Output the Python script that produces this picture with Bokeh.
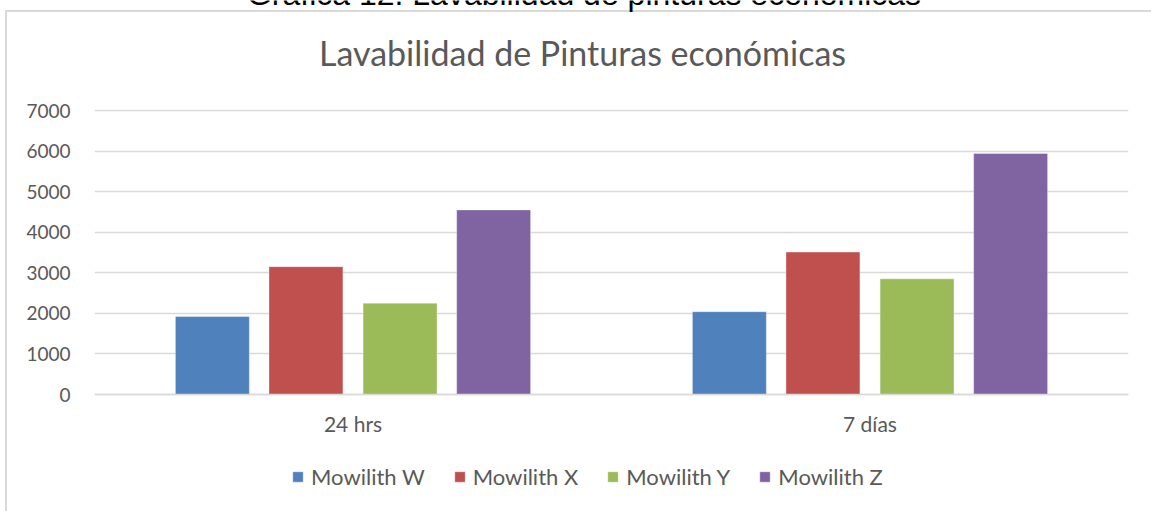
from bokeh.plotting import figure
from bokeh.models import (FactorRange, Range1d, Legend, LegendItem, Label,
                          FixedTicker, ColumnDataSource)
from bokeh.transform import dodge
from bokeh.embed import file_html
from bokeh.resources import INLINE

# ---- data ----
categories = ["24 hrs", "7 días"]
series = ["Mowilith W", "Mowilith X", "Mowilith Y", "Mowilith Z"]
mowilith_w = [1920, 2040]
mowilith_x = [3150, 3510]
mowilith_y = [2250, 2850]
mowilith_z = [4550, 5940]
y_ticks = [0, 1000, 2000, 3000, 4000, 5000, 6000, 7000]
header_text = "Gráfica 12. Lavabilidad de pinturas económicas"
chart_title = "Lavabilidad de Pinturas económicas"

colors = ["#4F81BD", "#C0504D", "#9BBB59", "#8064A2"]
offsets = [-0.272, -0.091, 0.091, 0.272]

src = ColumnDataSource(dict(cat=categories, w=mowilith_w, x=mowilith_x,
                            y=mowilith_y, z=mowilith_z))
keys = ["w", "x", "y", "z"]

W, H = 1151, 511
# plot area edges in page pixels (0 line at FB, 7000 line at FT)
FL, FR, FT, FB = 94, 1128, 110, 394
YMAX = 7000


def ydata(page_y):
    return (FB - page_y) / (FB - FT) * YMAX


def xdata(page_x):
    return (page_x - FL) / (FR - FL) * 2


p = figure(x_range=FactorRange(*categories, range_padding=0),
           y_range=Range1d(ydata(H), ydata(0)),
           width=W, height=H, output_backend="svg", toolbar_location=None,
           title=None,
           min_border_left=FL, min_border_right=W - FR,
           min_border_top=0, min_border_bottom=0)
p.outline_line_color = None
p.background_fill_color = None
p.border_fill_color = None
p.styles = {
    "background-color": "white",
    "background-image": "linear-gradient(#D9D9D9, #D9D9D9), "
                        "linear-gradient(#D9D9D9, #D9D9D9)",
    "background-size": "2px 100%, 100% 2px",
    "background-position": "5px 10px, 5px 10px",
    "background-repeat": "no-repeat",
}

renderers = []
for k, off, c in zip(keys, offsets, colors):
    r = p.vbar(x=dodge("cat", off, range=p.x_range), top=k, width=0.143,
               source=src, fill_color=c, line_color="white", line_alpha=0.35,
               line_width=1)
    renderers.append(r)

# axes
p.yaxis.ticker = FixedTicker(ticks=y_ticks)
p.yaxis.axis_line_color = None
p.yaxis.major_tick_line_color = None
p.yaxis.minor_tick_line_color = None
p.yaxis.major_label_standoff = 18
p.yaxis.major_label_text_font = "Lato"
p.yaxis.major_label_text_font_size = "19px"
p.yaxis.major_label_text_color = "#595959"

p.xaxis.fixed_location = 0
p.xaxis.axis_line_color = "#D9D9D9"
p.xaxis.axis_line_width = 1.5
p.xaxis.major_tick_line_color = None
p.xaxis.minor_tick_line_color = None
p.xaxis.major_label_standoff = 10
p.xaxis.major_label_text_font = "Lato"
p.xaxis.major_label_text_font_size = "21px"
p.xaxis.major_label_text_color = "#595959"

p.xgrid.grid_line_color = None
p.ygrid.grid_line_color = "#D9D9D9"
p.ygrid.grid_line_width = 1.5

# header text (cut off at the top) and chart title
p.add_layout(Label(x=xdata(583.5), y=ydata(-7), text=header_text,
                   text_align="center", text_baseline="alphabetic",
                   text_font="Liberation Sans", text_font_size="32px",
                   text_color="black"))
p.add_layout(Label(x=xdata(582), y=ydata(52), text=chart_title,
                   text_align="center", text_baseline="alphabetic",
                   text_font="Lato", text_font_size="34px",
                   text_color="#595959"))

legend = Legend(items=[LegendItem(label=s, renderers=[r])
                       for s, r in zip(series, renderers)],
                orientation="horizontal", location=(291 - FL, H - 490),
                glyph_width=13, glyph_height=13, label_standoff=7,
                spacing=28, padding=0, margin=0, border_line_color=None,
                background_fill_alpha=0, label_text_font="Lato",
                label_text_font_size="22px", label_text_color="#595959",
                label_height=20)
p.add_layout(legend, "center")

open("out.html", "w").write(file_html(p, INLINE))
